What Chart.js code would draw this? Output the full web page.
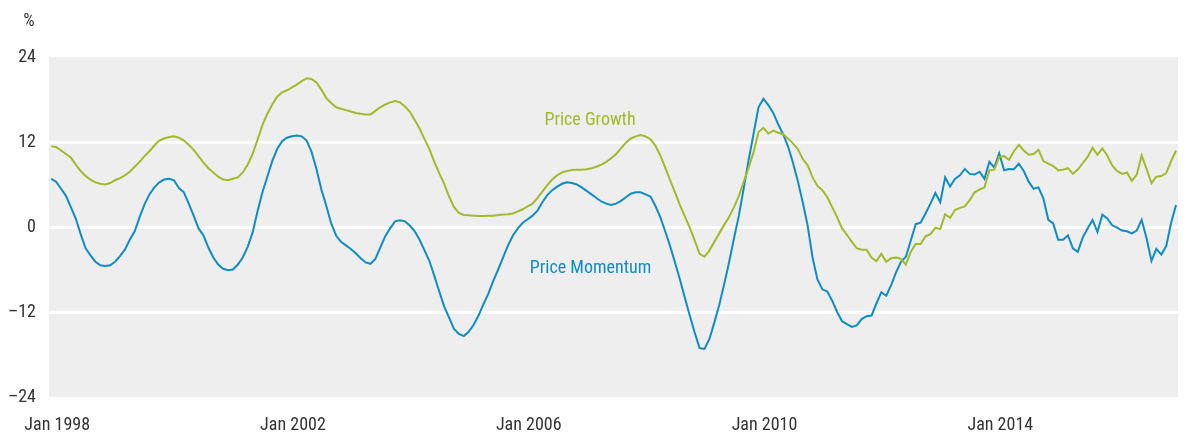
<!DOCTYPE html>
<html>
<head>
<meta charset="utf-8">
<script src="https://cdn.jsdelivr.net/npm/chart.js@4"></script>
<style>
  html, body { margin: 0; padding: 0; background: #fff; }
  canvas { display: block; }
</style>
</head>
<body>
<canvas id="myChart" width="1185" height="434"></canvas>
<script>
// monthly values, Jan 1998 onwards
const priceGrowth = [
    11.4, 11.3, 10.8, 10.3, 9.8, 8.8, 7.9, 7.2, 6.7, 6.3, 6.1, 6.0,
    6.2, 6.6, 6.9, 7.3, 7.8, 8.5, 9.2, 10.0, 10.7, 11.5, 12.2, 12.5,
    12.7, 12.8, 12.6, 12.2, 11.6, 10.9, 10.0, 9.1, 8.3, 7.7, 7.1, 6.7,
    6.6, 6.8, 7.0, 7.7, 8.8, 10.3, 12.3, 14.4, 16.0, 17.3, 18.4, 19.0,
    19.3, 19.7, 20.1, 20.6, 21.0, 20.9, 20.4, 19.4, 18.2, 17.5, 16.9, 16.7,
    16.5, 16.3, 16.1, 16.0, 15.9, 15.9, 16.4, 16.9, 17.3, 17.6, 17.8, 17.6,
    17.0, 16.3, 15.1, 13.9, 12.4, 11.0, 9.2, 7.6, 6.1, 4.3, 2.8, 2.0,
    1.7, 1.65, 1.6, 1.55, 1.55, 1.6, 1.6, 1.7, 1.75, 1.8, 1.9, 2.2,
    2.5, 2.9, 3.3, 4.1, 5.0, 5.9, 6.7, 7.3, 7.7, 7.9, 8.05, 8.1,
    8.1, 8.15, 8.3, 8.5, 8.8, 9.2, 9.7, 10.3, 11.1, 11.9, 12.5, 12.8,
    13.0, 12.8, 12.4, 11.5, 10.1, 8.4, 6.6, 4.9, 3.1, 1.5, -0.1, -1.9,
    -3.8, -4.2, -3.3, -2.1, -0.9, 0.3, 1.4, 2.8, 4.4, 6.4, 8.4, 10.6,
    13.4, 14.0, 13.2, 13.6, 13.3, 13.1, 12.5, 11.8, 11.0, 9.6, 8.7, 7.0,
    5.8, 5.2, 4.2, 2.8, 1.4, -0.2, -1.1, -2.1, -3.0, -3.2, -3.2, -4.3,
    -4.8, -3.8, -4.9, -4.4, -4.3, -4.5, -5.3, -3.5, -2.4, -2.4, -1.3, -1.0,
    -0.1, -0.3, 1.8, 1.3, 2.4, 2.7, 2.9, 3.8, 4.9, 5.3, 5.6, 8.0,
    8.1, 9.9, 10.0, 9.5, 10.7, 11.6, 10.8, 10.2, 10.3, 10.9, 9.3, 8.95,
    8.6, 8.0, 8.1, 8.3, 7.5, 8.1, 9.0, 9.9, 11.2, 10.2, 11.1, 10.1,
    8.7, 7.9, 7.5, 7.7, 6.5, 7.4, 10.1, 8.2, 6.2, 7.1, 7.2, 7.6,
    9.3, 10.8
]

const priceMomentum = [
    6.8, 6.4, 5.4, 4.4, 2.8, 1.2, -1.0, -3.0, -4.0, -4.9, -5.4, -5.5,
    -5.4, -4.9, -4.1, -3.2, -1.8, -0.6, 1.4, 3.2, 4.6, 5.6, 6.3, 6.7,
    6.8, 6.6, 5.5, 4.9, 3.3, 1.6, -0.2, -1.2, -2.9, -4.3, -5.3, -5.9,
    -6.1, -6.0, -5.3, -4.3, -2.8, -0.8, 2.2, 4.9, 7.1, 9.3, 11.0, 12.1,
    12.6, 12.8, 12.9, 12.8, 12.2, 10.6, 8.2, 5.3, 3.0, 0.5, -1.2, -2.1,
    -2.6, -3.1, -3.7, -4.4, -5.0, -5.2, -4.5, -2.9, -1.3, -0.2, 0.8, 0.95,
    0.8, 0.2, -0.6, -1.8, -3.3, -4.8, -6.9, -9.1, -11.2, -12.8, -14.4, -15.1,
    -15.4, -14.8, -13.8, -12.5, -10.9, -9.4, -7.6, -6.0, -4.3, -2.6, -1.2, -0.2,
    0.6, 1.1, 1.6, 2.3, 3.5, 4.5, 5.2, 5.7, 6.1, 6.3, 6.2, 6.0,
    5.6, 5.1, 4.6, 4.1, 3.6, 3.3, 3.1, 3.3, 3.7, 4.2, 4.7, 4.9,
    4.9, 4.6, 4.3, 3.0, 1.4, -0.6, -2.7, -5.0, -7.4, -10.0, -12.5, -14.9,
    -17.1, -17.2, -15.8, -13.5, -11.0, -8.1, -5.0, -1.6, 1.6, 5.5, 9.5, 13.2,
    16.9, 18.1, 17.2, 16.1, 14.5, 13.1, 11.4, 9.1, 6.5, 3.5, 0.2, -4.3,
    -7.4, -8.8, -9.1, -10.4, -12.0, -13.3, -13.7, -14.1, -13.9, -13.0, -12.6, -12.5,
    -10.8, -9.2, -9.7, -8.2, -6.4, -4.9, -4.2, -1.9, 0.4, 0.6, 1.9, 3.3,
    4.8, 3.5, 7.0, 5.7, 6.8, 7.3, 8.2, 7.5, 7.4, 7.8, 6.8, 9.2,
    8.4, 10.4, 8.0, 8.2, 8.15, 8.95, 7.9, 6.4, 5.4, 5.6, 4.0, 1.0,
    0.5, -1.8, -1.8, -1.2, -3.0, -3.5, -1.5, -0.2, 1.0, -0.7, 1.75, 1.2,
    0.24, -0.1, -0.5, -0.6, -0.9, -0.5, 1.0, -1.6, -4.8, -3.1, -3.9, -2.7,
    0.6, 3.1
]

const tickIndex = [0, 48, 96, 144, 192]
const tickLabels = ["Jan 1998", "Jan 2002", "Jan 2006", "Jan 2010", "Jan 2014"]
const yTicks = [-24, -12, 0, 12, 24]

const green = "#a3b92b"
const blue = "#0f8cc4"
const textColor = "#333333"
const fontFamily = "'Liberation Sans Narrow', 'Arial Narrow', 'Roboto Condensed', sans-serif"

// in-chart labels, placed in data units
const seriesLabels = [
    { text: "Price Growth", x: 109.7, y: 15.1, color: green },
    { text: "Price Momentum", x: 109.8, y: -5.8, color: blue }
]

function toPoints(values) {
    return values.map(function (v, i) { return { x: i, y: v } })
}

const backgroundPlugin = {
    id: "bg",
    beforeDraw: function (chart) {
        const ctx = chart.ctx
        const a = chart.chartArea
        ctx.save()
        ctx.fillStyle = "#eeeeee"
        ctx.fillRect(a.left, a.top, a.right - a.left, a.bottom - a.top)
        ctx.restore()
    }
}

const textPlugin = {
    id: "texts",
    afterDatasetsDraw: function (chart) {
        const ctx = chart.ctx
        const xs = chart.scales.x
        const ys = chart.scales.y
        ctx.save()
        ctx.font = "18px " + fontFamily
        ctx.textBaseline = "middle"
        ctx.textAlign = "center"
        seriesLabels.forEach(function (l) {
            ctx.fillStyle = l.color
            ctx.fillText(l.text, xs.getPixelForValue(l.x), ys.getPixelForValue(l.y))
        })
        ctx.fillStyle = textColor
        ctx.fillText("%", 29, 21)
        ctx.restore()
    }
}

var ctx = document.getElementById("myChart").getContext("2d")
var chart = new Chart(ctx, {
    type: "line",
    data: {
        datasets: [{
            label: "Price Growth",
            data: toPoints(priceGrowth),
            borderColor: green,
            borderWidth: 2,
            pointRadius: 0,
            tension: 0
        }, {
            label: "Price Momentum",
            data: toPoints(priceMomentum),
            borderColor: blue,
            borderWidth: 2,
            pointRadius: 0,
            tension: 0
        }]
    },
    options: {
        responsive: false,
        devicePixelRatio: 1,
        animation: false,
        layout: { padding: { top: 57, right: 7, left: 0, bottom: 0 } },
        plugins: { legend: { display: false }, tooltip: { enabled: false } },
        scales: {
            x: {
                type: "linear",
                min: -0.45,
                max: 229.4,
                grid: { display: false },
                border: { display: false },
                afterBuildTicks: function (scale) {
                    scale.ticks = tickIndex.map(function (v) { return { value: v } })
                },
                afterFit: function (scale) { scale.height = 37 },
                ticks: {
                    autoSkip: false,
                    maxRotation: 0,
                    padding: 10,
                    labelOffset: 6,
                    color: textColor,
                    font: { family: fontFamily, size: 18 },
                    callback: function (value) {
                        const i = tickIndex.indexOf(value)
                        return i >= 0 ? tickLabels[i] : ""
                    }
                }
            },
            y: {
                min: -24,
                max: 24,
                afterBuildTicks: function (scale) {
                    scale.ticks = yTicks.map(function (v) { return { value: v } })
                },
                afterFit: function (scale) { scale.width = 49 },
                grid: {
                    drawTicks: false,
                    lineWidth: 3,
                    color: function (c) {
                        return Math.abs(c.tick.value) === 24 ? "rgba(0,0,0,0)" : "#ffffff"
                    }
                },
                border: { display: false },
                ticks: {
                    padding: 13,
                    color: textColor,
                    font: { family: fontFamily, size: 18 },
                    callback: function (value) {
                        return value < 0 ? "\u2013" + Math.abs(value) : String(value)
                    }
                }
            }
        }
    },
    plugins: [backgroundPlugin, textPlugin]
})
</script>
</body>
</html>
